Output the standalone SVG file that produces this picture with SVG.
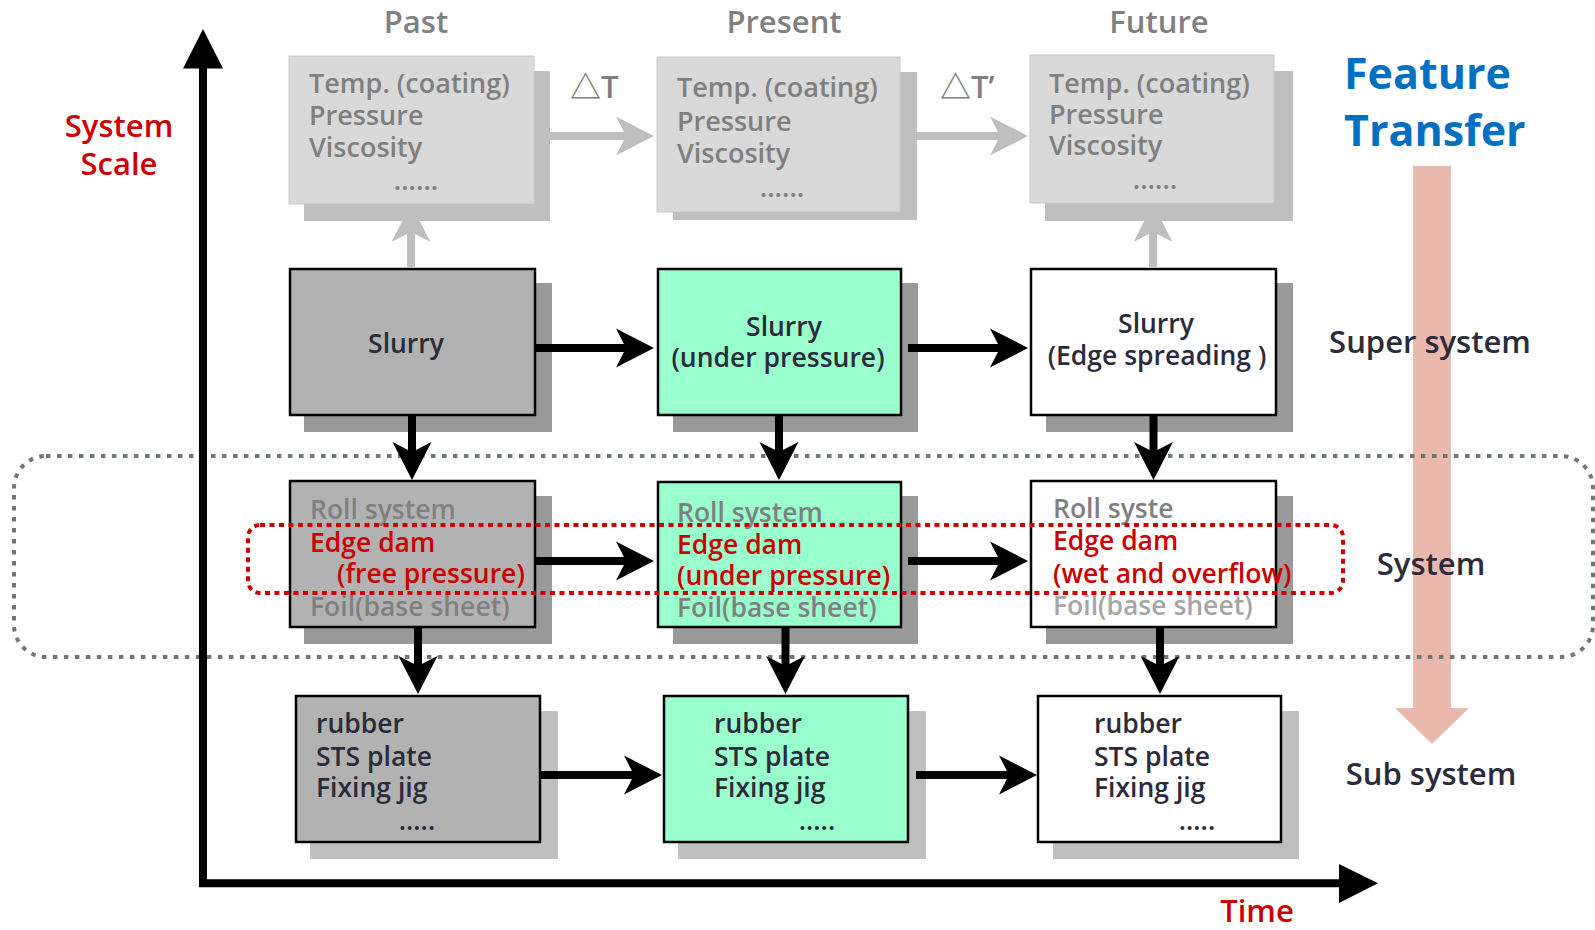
<svg xmlns="http://www.w3.org/2000/svg" width="1595" height="930" viewBox="0 0 1595 930">
<style>
text { font-family: "Open Sans", "Noto Sans CJK KR", sans-serif; font-weight: 600; }
.hdr { font-size: 31px; fill: #808080; }
.tt { font-size: 27px; fill: #808080; }
.boxtop { fill: #d9d9d9; stroke: #c8c8c8; stroke-width: 1; }
.shtop { fill: #bfbfbf; }
.b { stroke: #000; stroke-width: 2.5; }
.past { fill: #b2b2b2; }
.pres { fill: #99ffcc; }
.fut { fill: #ffffff; }
.sh { fill: #999999; }
.sh2 { fill: #bfbfbf; }
.t { font-size: 26.5px; fill: #2b2b3b; }
.g { fill: #808080; }
.r { fill: #cc0000; }
.lg { fill: #a6a6a6; }
.lbl { font-size: 31px; fill: #2b2b3b; }
.conn { stroke: #000; stroke-width: 8; fill: none; marker-end: url(#ah); }
.gconn { stroke: #bfbfbf; stroke-width: 8; fill: none; marker-end: url(#ahg); }
.mid { text-anchor: middle; }
</style>
<defs>
<marker id="ah" markerUnits="userSpaceOnUse" viewBox="-20 -20 40 40" refX="0" refY="0" markerWidth="40" markerHeight="40" orient="auto">
<path d="M20,0 L-18,-19.5 L-8,0 L-18,19.5 Z" fill="#000"/>
</marker>
<marker id="ahg" markerUnits="userSpaceOnUse" viewBox="-20 -20 40 40" refX="0" refY="0" markerWidth="40" markerHeight="40" orient="auto">
<path d="M20,0 L-18,-19.5 L-8,0 L-18,19.5 Z" fill="#bfbfbf"/>
</marker>
</defs>

<!-- Feature transfer pink arrow -->
<g id="feature-arrow">
<rect x="1413" y="166" width="38" height="543" fill="#ebb8ae"/>
<polygon points="1395,708 1469,708 1432,744" fill="#ebb8ae"/>
</g>

<!-- Top row (properties) -->
<g id="top-past">
<rect class="shtop" x="304" y="71" width="246" height="150"/>
<rect class="boxtop" x="289" y="56" width="245" height="148"/>
<text class="tt" x="309" y="93">Temp. (coating)</text>
<text class="tt" x="309" y="125">Pressure</text>
<text class="tt" x="309" y="157">Viscosity</text>
<text class="tt mid" x="416" y="190">......</text>
</g>
<g id="top-present">
<rect class="shtop" x="673" y="72" width="244" height="148"/>
<rect class="boxtop" x="657" y="57" width="243" height="155"/>
<text class="tt" x="677" y="97">Temp. (coating)</text>
<text class="tt" x="677" y="131">Pressure</text>
<text class="tt" x="677" y="163">Viscosity</text>
<text class="tt mid" x="782" y="197">......</text>
</g>
<g id="top-future">
<rect class="shtop" x="1045" y="71" width="248" height="150"/>
<rect class="boxtop" x="1030" y="55" width="244" height="148"/>
<text class="tt" x="1049" y="93">Temp. (coating)</text>
<text class="tt" x="1049" y="124">Pressure</text>
<text class="tt" x="1049" y="155">Viscosity</text>
<text class="tt mid" x="1155" y="189">......</text>
</g>

<!-- Super system row -->
<g id="slurry-past">
<rect class="sh" x="304" y="283" width="248" height="149"/>
<rect class="b past" x="290" y="269" width="245" height="146"/>
<text class="t mid" x="406" y="353">Slurry</text>
</g>
<g id="slurry-present">
<rect class="sh" x="673" y="283" width="245" height="149"/>
<rect class="b pres" x="658" y="269" width="243" height="146"/>
<text class="t mid" x="784" y="336">Slurry</text>
<text class="t mid" x="778" y="367">(under pressure)</text>
</g>
<g id="slurry-future">
<rect class="sh" x="1046" y="283" width="247" height="149"/>
<rect class="b fut" x="1031" y="269" width="245" height="146"/>
<text class="t mid" x="1156" y="333">Slurry</text>
<text class="t mid" x="1157" y="365">(Edge spreading )</text>
</g>

<!-- System row -->
<g id="system-past">
<rect class="sh" x="304" y="496" width="248" height="148"/>
<rect class="b past" x="290" y="481" width="245" height="146"/>
<text class="t g" x="310" y="519">Roll system</text>
<text class="t r" x="310" y="552">Edge dam</text>
<text class="t r" x="337" y="583">(free pressure)</text>
<text class="t g" x="310" y="616">Foil(base sheet)</text>
</g>
<g id="system-present">
<rect class="sh" x="673" y="496" width="245" height="148"/>
<rect class="b pres" x="658" y="482" width="243" height="145"/>
<text class="t g" x="677" y="522">Roll system</text>
<text class="t r" x="677" y="554">Edge dam</text>
<text class="t r" x="677" y="585">(under pressure)</text>
<text class="t g" x="677" y="617">Foil(base sheet)</text>
</g>
<g id="system-future">
<rect class="sh" x="1046" y="496" width="247" height="148"/>
<rect class="b fut" x="1031" y="481" width="245" height="146"/>
<text class="t g" x="1053" y="518">Roll syste</text>
<text class="t r" x="1053" y="550">Edge dam</text>
<text class="t r" x="1053" y="583">(wet and overflow)</text>
<text class="t lg" x="1053" y="615">Foil(base sheet)</text>
</g>

<!-- Sub system row -->
<g id="sub-past">
<rect class="sh2" x="310" y="711" width="248" height="148"/>
<rect class="b past" x="296" y="696" width="244" height="146"/>
<text class="t" x="316" y="733">rubber</text>
<text class="t" x="316" y="766">STS plate</text>
<text class="t" x="316" y="797">Fixing jig</text>
<text class="t mid" x="417" y="830">.....</text>
</g>
<g id="sub-present">
<rect class="sh2" x="678" y="711" width="248" height="148"/>
<rect class="b pres" x="664" y="696" width="244" height="146"/>
<text class="t" x="714" y="733">rubber</text>
<text class="t" x="714" y="766">STS plate</text>
<text class="t" x="714" y="797">Fixing jig</text>
<text class="t mid" x="817" y="830">.....</text>
</g>
<g id="sub-future">
<rect class="sh2" x="1053" y="711" width="246" height="148"/>
<rect class="b fut" x="1038" y="696" width="243" height="146"/>
<text class="t" x="1094" y="733">rubber</text>
<text class="t" x="1094" y="766">STS plate</text>
<text class="t" x="1094" y="797">Fixing jig</text>
<text class="t mid" x="1197" y="830">.....</text>
</g>

<!-- grouping outlines -->
<g id="system-outline">
<rect x="14" y="456" width="1579" height="201" rx="32" ry="32" fill="none" stroke="#6e7870" stroke-width="4" stroke-dasharray="4.5 6.5"/>
</g>
<g id="edge-dam-outline">
<rect x="248" y="525" width="1095" height="68" rx="12" ry="12" fill="none" stroke="#cc0000" stroke-width="4" stroke-dasharray="5 4.5"/>
</g>

<!-- connectors -->
<g id="connectors">
<line class="gconn" x1="550" y1="136" x2="634" y2="136"/>
<line class="gconn" x1="917" y1="136" x2="1008" y2="136"/>
<line class="gconn" x1="411" y1="268" x2="411" y2="224"/>
<line class="gconn" x1="1153" y1="268" x2="1153" y2="224"/>
<line class="conn" x1="535" y1="348" x2="634" y2="348"/>
<line class="conn" x1="908" y1="348" x2="1008" y2="348"/>
<line class="conn" x1="535" y1="561" x2="634" y2="561"/>
<line class="conn" x1="908" y1="561" x2="1008" y2="561"/>
<line class="conn" x1="540" y1="775" x2="642" y2="775"/>
<line class="conn" x1="916" y1="775" x2="1017" y2="775"/>
<line class="conn" x1="412" y1="415" x2="412" y2="460"/>
<line class="conn" x1="779" y1="415" x2="779" y2="460"/>
<line class="conn" x1="1153.5" y1="415" x2="1153.5" y2="460"/>
<line class="conn" x1="418" y1="627" x2="418" y2="674"/>
<line class="conn" x1="785.5" y1="627" x2="785.5" y2="674"/>
<line class="conn" x1="1160" y1="627" x2="1160" y2="674"/>
</g>

<!-- axes -->
<g id="axes">
<line x1="203" y1="887" x2="203" y2="66" stroke="#000" stroke-width="8"/>
<polygon points="203,29 183,68.5 223,68.5" fill="#000"/>
<line x1="199" y1="883.3" x2="1341" y2="883.3" stroke="#000" stroke-width="8"/>
<polygon points="1378,883.3 1339,864 1339,903" fill="#000"/>
</g>

<!-- labels -->
<g id="labels">
<text class="hdr mid" x="416" y="33">Past</text>
<text class="hdr mid" x="784" y="33">Present</text>
<text class="hdr mid" x="1159" y="33">Future</text>
<text class="hdr" x="570" y="98">△T</text>
<text class="hdr" x="940" y="98">△T’</text>
<text class="r mid" x="119" y="137" style="font-size:31px">System</text>
<text class="r mid" x="119" y="175" style="font-size:31px">Scale</text>
<text class="r mid" x="1257" y="922" style="font-size:31px">Time</text>
<text x="1344" y="89" style="font-size:43px;font-weight:700;fill:#0070c0">Feature</text>
<text x="1344" y="146" style="font-size:43px;font-weight:700;fill:#0070c0">Transfer</text>
<text class="lbl mid" x="1430" y="353">Super system</text>
<text class="lbl mid" x="1431" y="575">System</text>
<text class="lbl mid" x="1431" y="785">Sub system</text>
</g>
</svg>
